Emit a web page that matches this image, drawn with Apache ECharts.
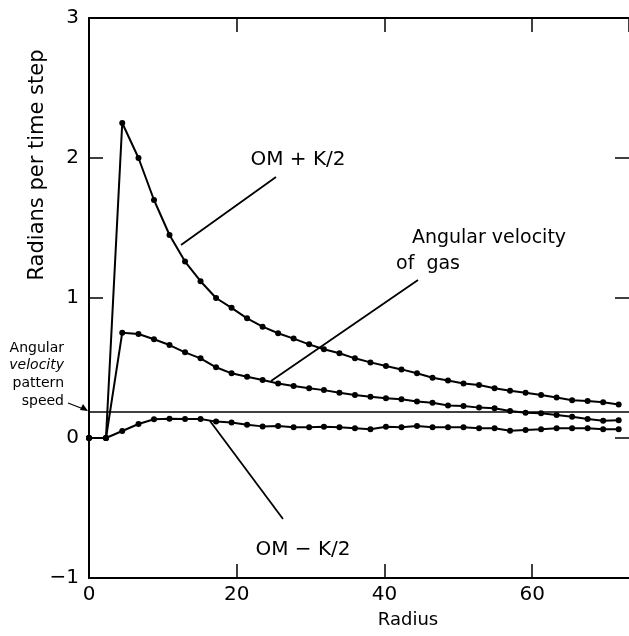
<!DOCTYPE html>
<html>
<head>
<meta charset="utf-8">
<script src="https://cdn.jsdelivr.net/npm/echarts@6/dist/echarts.min.js"></script>
<style>
html,body{margin:0;padding:0;background:#fff;}
#c{width:629px;height:636px;}
</style>
</head>
<body>
<div id="c"></div>
<script>
// Radius positions of the sampled points
const radius = [0, 2.3, 4.5, 6.7, 8.8, 10.9, 13.0, 15.1, 17.2, 19.3, 21.4, 23.5, 25.6, 27.7, 29.8, 31.8, 33.9, 36.0, 38.1, 40.2, 42.3, 44.4, 46.5, 48.6, 50.7, 52.8, 54.9, 57.0, 59.1, 61.2, 63.3, 65.4, 67.5, 69.6, 71.7];
// OM + K/2
const omPlusK2 = [0, 0, 2.25, 2.0, 1.70, 1.45, 1.26, 1.12, 1.0, 0.93, 0.855, 0.795, 0.748, 0.71, 0.669, 0.634, 0.605, 0.569, 0.54, 0.514, 0.49, 0.462, 0.43, 0.41, 0.39, 0.379, 0.355, 0.338, 0.324, 0.307, 0.29, 0.27, 0.264, 0.255, 0.24];
// Angular velocity of gas
const gasOmega = [0, 0, 0.752, 0.743, 0.705, 0.664, 0.612, 0.569, 0.505, 0.462, 0.438, 0.414, 0.39, 0.372, 0.355, 0.342, 0.324, 0.307, 0.295, 0.284, 0.276, 0.26, 0.252, 0.232, 0.229, 0.217, 0.212, 0.193, 0.18, 0.176, 0.164, 0.152, 0.136, 0.124, 0.126];
// OM - K/2
const omMinusK2 = [0, 0, 0.05, 0.10, 0.134, 0.138, 0.136, 0.136, 0.117, 0.11, 0.095, 0.083, 0.086, 0.076, 0.076, 0.081, 0.076, 0.069, 0.062, 0.081, 0.076, 0.086, 0.076, 0.076, 0.076, 0.069, 0.069, 0.052, 0.057, 0.062, 0.069, 0.069, 0.069, 0.062, 0.062];
// Angular velocity pattern speed
const patternSpeed = 0.186;
const xTicks = [0, 20, 40, 60];
const yTicks = [-1, 0, 1, 2, 3];

const pair = (ys) => radius.map((r, i) => [r, ys[i]]);
const FONT = 'DejaVu Sans';
const axisLine = {show: true, onZero: false, lineStyle: {color: '#000', width: 2}};
const tickIn = {show: true, inside: true, length: 14, lineStyle: {color: '#000', width: 1.5}};

const lineSeries = (name, ys) => ({
  name, type: 'line', data: pair(ys),
  symbol: 'circle', symbolSize: 6, showSymbol: true,
  lineStyle: {color: '#000', width: 2},
  itemStyle: {color: '#000'},
  emphasis: {disabled: true},
  silent: true, z: 3
});

const chart = echarts.init(document.getElementById('c'), null, {renderer: 'canvas'});
const s1 = lineSeries('OM + K/2', omPlusK2);
s1.markLine = {
  silent: true, symbol: ['none', 'none'], label: {show: false},
  lineStyle: {color: '#000', width: 1.6, type: 'solid'},
  data: [{yAxis: patternSpeed}]
};

const txt = (x, y, text, size, extra) => ({
  type: 'text', x, y, ...(extra || {}),
  style: Object.assign({text, fontSize: size, fontFamily: FONT, fill: '#000', textAlign: 'center', textVerticalAlign: 'middle'}, (extra && extra.st) || {})
});

chart.setOption({
  animation: false,
  backgroundColor: '#fff',
  textStyle: {fontFamily: FONT},
  grid: {left: 89, right: 0, top: 18, bottom: 58},
  xAxis: [
    {type: 'value', min: 0, max: 73.1, interval: 20, position: 'bottom',
     axisLine, axisTick: tickIn, splitLine: {show: false},
     axisLabel: {fontSize: 20, color: '#000', margin: 7, fontFamily: FONT, showMaxLabel: false,
       formatter: v => xTicks.includes(v) ? String(v) : ''}},
    {type: 'value', min: 0, max: 73.1, interval: 20, position: 'top',
     axisLine, axisTick: tickIn, splitLine: {show: false}, axisLabel: {show: false}}
  ],
  yAxis: [
    {type: 'value', min: -1, max: 3, interval: 1, position: 'left',
     axisLine, axisTick: tickIn, splitLine: {show: false},
     axisLabel: {fontSize: 20, color: '#000', margin: 10, fontFamily: FONT,
       formatter: v => yTicks.includes(v) ? (v < 0 ? '\u2212' + Math.abs(v) : String(v)) : ''}},
    {type: 'value', min: -1, max: 3, interval: 1, position: 'right',
     axisLine: {show: false, onZero: false}, axisTick: tickIn, splitLine: {show: false}, axisLabel: {show: false}}
  ],
  series: [s1, lineSeries('Angular velocity of gas', gasOmega), lineSeries('OM - K/2', omMinusK2)],
  graphic: [
    txt(38, 165, 'Radians per time step', 21, {rotation: Math.PI / 2}),
    txt(408, 620, 'Radius', 18),
    txt(298, 160, 'OM + K/2', 20),
    {type: 'line', shape: {x1: 276, y1: 177, x2: 181, y2: 245}, style: {stroke: '#000', lineWidth: 1.8}},
    txt(489, 238, 'Angular velocity', 19),
    txt(428, 264, 'of  gas', 19),
    {type: 'line', shape: {x1: 418, y1: 280, x2: 271, y2: 381}, style: {stroke: '#000', lineWidth: 1.8}},
    txt(303, 550, 'OM \u2212 K/2', 20),
    {type: 'line', shape: {x1: 210, y1: 421, x2: 283, y2: 519}, style: {stroke: '#000', lineWidth: 1.8}},
    txt(64, 348, 'Angular', 14, {st: {textAlign: 'right'}}),
    txt(64, 365, 'velocity', 14, {st: {textAlign: 'right', fontStyle: 'italic'}}),
    txt(64, 383, 'pattern', 14, {st: {textAlign: 'right'}}),
    txt(64, 401, 'speed', 14, {st: {textAlign: 'right'}}),
    {type: 'line', shape: {x1: 68, y1: 403, x2: 86, y2: 410}, style: {stroke: '#000', lineWidth: 1.3}},
    {type: 'polygon', shape: {points: [[88, 411], [80, 410], [83, 404]]}, style: {fill: '#000'}}
  ]
});
</script>
</body>
</html>
